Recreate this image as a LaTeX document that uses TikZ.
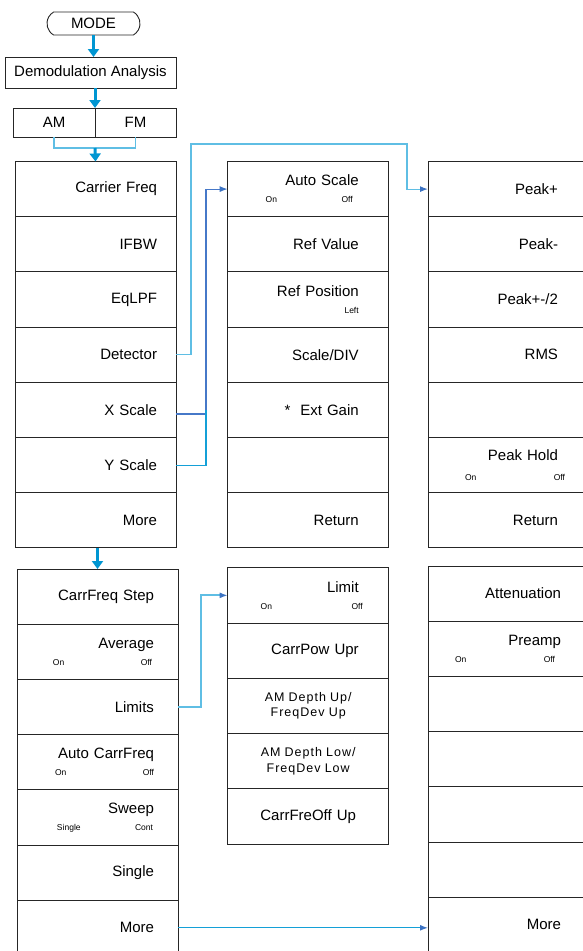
\documentclass[tikz,border=0pt]{standalone}
\usepackage{fontspec}
\setmainfont{Liberation Sans}
\newfontfamily\widefont[LetterSpace=8]{Liberation Sans}
\usetikzlibrary{positioning,arrows.meta,shapes.misc}
\definecolor{FlowBlue}{RGB}{0,150,210}
\definecolor{LinkSky}{RGB}{95,190,228}
\definecolor{LinkBlue}{RGB}{70,120,200}
\definecolor{LinkCyan}{RGB}{20,160,215}
\definecolor{TipBlue}{RGB}{60,115,195}
\newcommand{\subf}{\fontsize{8.5}{10}\selectfont}
\newcommand{\onoff}[4]{\hbox to \hsize{\hss\makebox[#1pt]{\subf #2\hfill #3}\hspace*{#4pt}}}

\begin{document}
\begin{tikzpicture}[
  x=1pt, y=-1pt,
  font=\fontsize{15}{17}\selectfont,
  term/.style={draw=black!85, line width=0.9pt, rounded rectangle,
    rounded rectangle arc length=120, minimum width=93pt, minimum height=23pt,
    inner sep=0pt},
  box/.style={draw=black!85, line width=0.9pt, inner sep=0pt, outer sep=0pt},
  key/.style={draw=black!85, line width=0.9pt, minimum width=161pt,
    minimum height=55.2pt, inner ysep=0pt, outer sep=0pt, align=right},
  keyA/.style={key, text width=123pt, inner xsep=19pt},
  keyB/.style={key, text width=113pt, inner xsep=24pt},
  keyC/.style={key, text width=101pt, inner xsep=30pt},
  keyD/.style={key, text width=99pt, inner xsep=31pt},
  keyE/.style={key, text width=105pt, inner xsep=28pt},
  twoline/.style={align=center, font=\widefont\fontsize{12.5}{15.5}\selectfont},
  flow/.style={draw=FlowBlue, line width=3pt, -{Triangle[length=8pt, width=11pt]}},
  bracket/.style={draw=LinkSky, line width=1.3pt},
  link/.style={line width=1.2pt, -{Latex[length=8pt, width=6pt, color=TipBlue]}},
  plain/.style={line width=1.2pt},
]
\useasboundingbox (0,0) rectangle (583,951);
\clip (0,0) rectangle (583,951);

\node[term] (mode) at (93.5,23.5) {MODE};
\node[box, minimum width=171pt, minimum height=31pt] (demod) at (90.5,72.5) {Demodulation Analysis};
\node[box, minimum width=82pt, minimum height=29pt] (am) at (54,122.5) {AM};
\node[box, minimum width=81pt, minimum height=29pt, right=0pt of am] (fm) {FM};

\node[keyA, anchor=north west] (cf) at (15,161.5) {Carrier Freq};
\node[keyA, below=0pt of cf] (ifbw) {IFBW};
\node[keyA, below=0pt of ifbw] (eqlpf) {EqLPF};
\node[keyA, below=0pt of eqlpf] (det) {Detector};
\node[keyA, below=0pt of det] (xs) {X Scale};
\node[keyA, below=0pt of xs] (ys) {Y Scale};
\node[keyA, below=0pt of ys] (more1) {More};

\node[keyC, anchor=north west] (as) at (227.7,161.5) {Auto Scale\\\onoff{87}{On}{Off}{6}};
\node[keyC, below=0pt of as] (refv) {Ref Value};
\node[keyC, below=0pt of refv] (refp) {Ref Position\\{\subf Left}};
\node[keyC, below=0pt of refp] (sdiv) {Scale/DIV};
\node[keyC, below=0pt of sdiv] (extg) {*\ \ Ext Gain};
\node[keyC, below=0pt of extg] (blank2) {};
\node[keyC, below=0pt of blank2] (ret2) {Return};

\node[keyD, anchor=north west] (pkp) at (428,161.5) {Peak+};
\node[keyD, below=0pt of pkp] (pkm) {Peak-};
\node[keyD, below=0pt of pkm] (pkavg) {Peak+-/2};
\node[keyD, below=0pt of pkavg] (rms) {RMS};
\node[keyD, below=0pt of rms] (blank3) {};
\node[keyD, below=0pt of blank3] (phold) {Peak Hold\\[3pt]\onoff{100}{On}{Off}{-7}};
\node[keyD, below=0pt of phold] (ret3) {Return};

\node[keyB, anchor=north west] (cfs) at (17,569) {CarrFreq Step};
\node[keyB, below=0pt of cfs] (avg) {Average\\\onoff{99}{On}{Off}{2}};
\node[keyB, below=0pt of avg] (lims) {Limits};
\node[keyB, below=0pt of lims] (acf) {Auto CarrFreq\\\onoff{99}{On}{Off}{0}};
\node[keyB, below=0pt of acf] (swp) {Sweep\\\onoff{96}{Single}{Cont}{1}};
\node[keyB, below=0pt of swp] (sgl) {Single};
\node[keyB, below=0pt of sgl] (more2) {More};

\node[keyC, anchor=north west, minimum height=55.3pt] (limit) at (227.7,567.7) {Limit\\\onoff{102}{On}{Off}{-4}};
\node[keyC, minimum height=55.3pt, below=0pt of limit] (cpu) {CarrPow Upr};
\node[keyC, minimum height=55.3pt, twoline, below=0pt of cpu] (amdu) {AM Depth Up/\\FreqDev Up};
\node[keyC, minimum height=55.3pt, twoline, below=0pt of amdu] (amdl) {AM Depth Low/\\FreqDev Low};
\node[keyC, minimum height=55.3pt, align=center, below=0pt of amdl] (cfo) {CarrFreOff Up};

\node[keyE, anchor=north west] (att) at (428,566) {Attenuation};
\node[keyE, below=0pt of att] (pre) {Preamp\\\onoff{100}{On}{Off}{6}};
\node[keyE, below=0pt of pre] (e1) {};
\node[keyE, below=0pt of e1] (e2) {};
\node[keyE, below=0pt of e2] (e3) {};
\node[keyE, below=0pt of e3] (e4) {};
\node[keyE, below=0pt of e4] (more3) {More};

\coordinate (amfm) at ([yshift=-11pt]am.south east);
\coordinate (detup) at (191,144);
\coordinate (detdn) at (407,144);
\coordinate (xsbus) at ([xshift=-21.7pt]as.west);
\coordinate (limbus) at ([xshift=-27pt]limit.west);

\draw[flow] (mode.south) -- (mode.south |- demod.north);
\draw[flow] (demod.south -| am.north east) -- (am.north east);
\draw[bracket] (am.south) |- (amfm) -| (fm.south);
\draw[flow] (amfm) -- (cf.north);
\draw[flow] (more1.south -| cfs.north) -- (cfs.north);

\draw[link, LinkSky] (det.east) -| (detup) -- (detdn) |- (pkp.west);
\draw[link, LinkBlue] ([yshift=-4pt]xs.east) -| (xsbus) -- (as.west);
\draw[plain, LinkCyan] (ys.east) -| (xsbus |- xs.east);
\draw[link, LinkSky, line width=1.8pt] (lims.east) -| (limbus) -- (limit.west);
\draw[link, LinkCyan] (more2.east) -- (more2.east -| more3.west);
\end{tikzpicture}
\end{document}
